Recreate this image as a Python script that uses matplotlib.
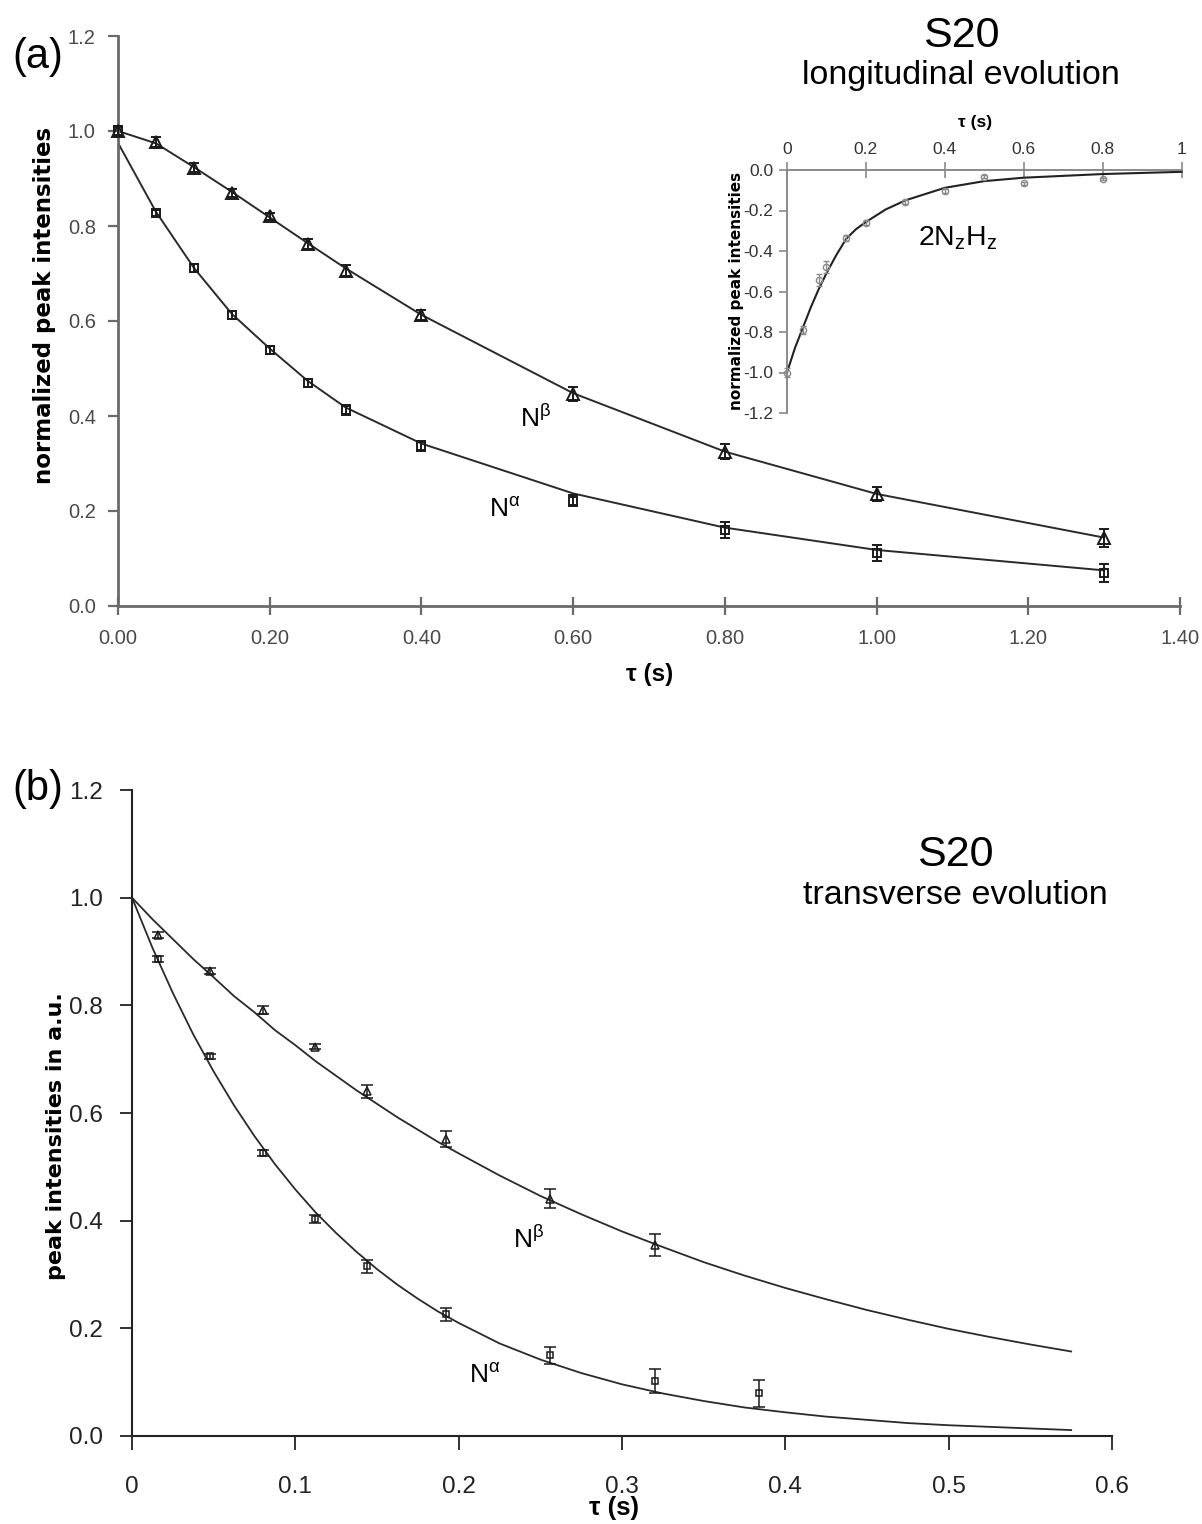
import matplotlib
matplotlib.use("Agg")
import matplotlib.pyplot as plt
from matplotlib.ticker import FormatStrFormatter, FixedLocator

plt.rcParams['font.family'] = ['Liberation Sans', 'DejaVu Sans']
plt.rcParams['mathtext.fontset'] = 'custom'
plt.rcParams['mathtext.rm'] = 'Liberation Sans'
plt.rcParams['mathtext.it'] = 'Liberation Sans:italic'
plt.rcParams['mathtext.bf'] = 'Liberation Sans:bold'

# ---------------- data: panel (a) longitudinal ----------------
a_tau = [0.00, 0.05, 0.10, 0.15, 0.20, 0.25, 0.30, 0.40, 0.60, 0.80, 1.00, 1.30]
a_nb = [1.000, 0.977, 0.923, 0.870, 0.820, 0.762, 0.706, 0.613, 0.446, 0.325, 0.236, 0.143]
a_nb_err = [0.010, 0.010, 0.009, 0.008, 0.008, 0.010, 0.012, 0.010, 0.014, 0.016, 0.015, 0.019]
a_na = [1.000, 0.828, 0.711, 0.613, 0.539, 0.469, 0.413, 0.337, 0.222, 0.160, 0.111, 0.069]
a_na_err = [0.010, 0.006, 0.008, 0.008, 0.008, 0.008, 0.010, 0.010, 0.012, 0.016, 0.017, 0.019]
a_nb_fit = [1.000, 0.974, 0.924, 0.872, 0.818, 0.764, 0.711, 0.613, 0.448, 0.325, 0.236, 0.144]
a_na_fit = [0.975, 0.830, 0.712, 0.615, 0.542, 0.474, 0.418, 0.342, 0.237, 0.165, 0.118, 0.075]
a_xticks = [0.0, 0.2, 0.4, 0.6, 0.8, 1.0, 1.2, 1.4]
a_yticks = [0.0, 0.2, 0.4, 0.6, 0.8, 1.0, 1.2]

# ---------------- data: inset 2NzHz ----------------
i_tau = [0.00, 0.04, 0.08, 0.10, 0.15, 0.20, 0.30, 0.40, 0.50, 0.60, 0.80]
i_val = [-1.000, -0.789, -0.542, -0.477, -0.334, -0.260, -0.156, -0.102, -0.033, -0.066, -0.044]
i_err = [0.020, 0.020, 0.030, 0.030, 0.015, 0.012, 0.010, 0.010, 0.006, 0.006, 0.006]
i_fit_tau = [0.00, 0.02, 0.04, 0.06, 0.08, 0.10, 0.125, 0.15, 0.175, 0.20, 0.25, 0.30,
             0.40, 0.50, 0.60, 0.80, 1.00]
i_fit = [-1.000, -0.880, -0.780, -0.680, -0.590, -0.510, -0.420, -0.340, -0.292, -0.257,
         -0.195, -0.150, -0.088, -0.055, -0.038, -0.020, -0.009]
i_xticks = [0.0, 0.2, 0.4, 0.6, 0.8, 1.0]
i_xticklabels = ['0', '0.2', '0.4', '0.6', '0.8', '1']
i_yticks = [-1.2, -1.0, -0.8, -0.6, -0.4, -0.2, 0.0]

# ---------------- data: panel (b) transverse ----------------
b_tau_nb = [0.016, 0.048, 0.080, 0.112, 0.144, 0.192, 0.256, 0.320]
b_nb = [0.931, 0.864, 0.791, 0.723, 0.640, 0.551, 0.441, 0.355]
b_nb_err = [0.005, 0.005, 0.008, 0.005, 0.012, 0.015, 0.018, 0.021]
b_tau_na = [0.016, 0.048, 0.080, 0.112, 0.144, 0.192, 0.256, 0.320, 0.384]
b_na = [0.886, 0.705, 0.526, 0.403, 0.315, 0.226, 0.150, 0.102, 0.079]
b_na_err = [0.005, 0.005, 0.005, 0.007, 0.012, 0.012, 0.016, 0.022, 0.025]
b_fit_tau = [0.0000, 0.0125, 0.0250, 0.0375, 0.0500, 0.0625, 0.0750, 0.0875, 0.1000,
             0.1125, 0.1250, 0.1375, 0.1500, 0.1625, 0.1750, 0.1875, 0.2000, 0.2250,
             0.2500, 0.2750, 0.3000, 0.3250, 0.3500, 0.3750, 0.4000, 0.4250, 0.4500,
             0.4750, 0.5000, 0.5250, 0.5500, 0.5750]
b_nb_fit = [1.000, 0.960, 0.923, 0.886, 0.852, 0.817, 0.787, 0.754, 0.726,
            0.696, 0.669, 0.642, 0.617, 0.592, 0.569, 0.546, 0.525, 0.484,
            0.446, 0.412, 0.380, 0.351, 0.323, 0.298, 0.275, 0.254, 0.234,
            0.216, 0.199, 0.184, 0.170, 0.157]
b_na_fit = [1.000, 0.907, 0.823, 0.746, 0.677, 0.614, 0.557, 0.505, 0.458,
            0.415, 0.377, 0.342, 0.310, 0.281, 0.255, 0.231, 0.210, 0.172,
            0.142, 0.117, 0.096, 0.079, 0.065, 0.053, 0.044, 0.036, 0.030,
            0.024, 0.020, 0.017, 0.014, 0.011]
b_xticks = [0.0, 0.1, 0.2, 0.3, 0.4, 0.5, 0.6]
b_xticklabels = ['0', '0.1', '0.2', '0.3', '0.4', '0.5', '0.6']
b_yticks = [0.0, 0.2, 0.4, 0.6, 0.8, 1.0, 1.2]

W, H = 1202, 1524
fig = plt.figure(figsize=(W / 100, H / 100), dpi=100)


def fx(x):
    return x / W


def fy(y):
    return 1 - y / H


# ================= panel (a) =================
axa = fig.add_axes([fx(118), fy(606), fx(1180) - fx(118), fy(36) - fy(606)])
axa.set_xlim(0, 1.4)
axa.set_ylim(0, 1.2)
gray_ax = '#6a6a6a'
for s in ['top', 'right']:
    axa.spines[s].set_visible(False)
for s in ['left', 'bottom']:
    axa.spines[s].set_color(gray_ax)
    axa.spines[s].set_linewidth(2.0)
axa.xaxis.set_major_locator(FixedLocator(a_xticks))
axa.yaxis.set_major_locator(FixedLocator(a_yticks))
axa.xaxis.set_major_formatter(FormatStrFormatter('%.2f'))
axa.yaxis.set_major_formatter(FormatStrFormatter('%.1f'))
axa.tick_params(axis='x', direction='inout', length=13, width=1.6, color=gray_ax,
                labelsize=14.5, labelcolor='#4a4a4a', pad=10)
axa.tick_params(axis='y', direction='out', length=7, width=1.6, color=gray_ax,
                labelsize=14.5, labelcolor='#4a4a4a', pad=9)

lc = '#2a2a2a'
axa.plot(a_tau, a_nb_fit, color=lc, lw=1.4, zorder=2)
axa.plot(a_tau, a_na_fit, color=lc, lw=1.4, zorder=2)
axa.errorbar(a_tau, a_nb, yerr=a_nb_err, fmt='^', ms=8, mfc='none', mec='#1a1a1a',
             mew=1.4, ecolor='#1a1a1a', elinewidth=1.4, capsize=3.8, capthick=1.4,
             zorder=3, clip_on=False)
axa.errorbar(a_tau, a_na, yerr=a_na_err, fmt='s', ms=6.3, mfc='none', mec='#1a1a1a',
             mew=1.4, ecolor='#1a1a1a', elinewidth=1.4, capsize=3.8, capthick=1.4,
             zorder=3, clip_on=False)

fig.text(fx(12), fy(57), '(a)', fontsize=30, ha='left', va='center')
fig.text(fx(961), fy(47), 'S20', fontsize=31, ha='center', va='baseline')
fig.text(fx(961), fy(84), 'longitudinal evolution', fontsize=24.5, ha='center', va='baseline')
fig.text(fx(520), fy(427), r'N$^{\mathrm{\beta}}$', fontsize=19, ha='left', va='baseline')
fig.text(fx(489), fy(517), r'N$^{\mathrm{\alpha}}$', fontsize=19, ha='left', va='baseline')
fig.text(fx(45), fy(305), 'normalized peak intensities', fontsize=16.5, fontweight='bold',
         family=['DejaVu Sans'], rotation=90, ha='center', va='center')
fig.text(fx(650), fy(674), 'τ (s)', fontsize=17.5, fontweight='bold', ha='center', va='center')

# ================= inset =================
axi = fig.add_axes([fx(787), fy(413), fx(1181.5) - fx(787), fy(170) - fy(413)])
axi.set_xlim(0, 1.0)
axi.set_ylim(-1.2, 0.0)
ig = '#8a8a8a'
for s in ['bottom', 'right']:
    axi.spines[s].set_visible(False)
for s in ['top', 'left']:
    axi.spines[s].set_color(ig)
    axi.spines[s].set_linewidth(1.4)
axi.xaxis.set_ticks_position('top')
axi.xaxis.set_label_position('top')
axi.xaxis.set_major_locator(FixedLocator(i_xticks))
axi.set_xticklabels(i_xticklabels)
axi.yaxis.set_major_locator(FixedLocator(i_yticks))
axi.yaxis.set_major_formatter(FormatStrFormatter('%.1f'))
axi.tick_params(axis='x', direction='inout', length=12, width=1.2, color=ig,
                labelsize=12.5, labelcolor='#333333', pad=3)
axi.tick_params(axis='y', direction='out', length=6, width=1.2, color=ig,
                labelsize=12.5, labelcolor='#333333', pad=4)
axi.patch.set_alpha(0)
axi.plot(i_fit_tau, i_fit, color='#222222', lw=1.5, zorder=2, clip_on=False)
axi.errorbar(i_tau, i_val, yerr=i_err, fmt='o', ms=4.5, mfc='none', mec='#8a8a8a',
             mew=1.0, ecolor='#8a8a8a', elinewidth=1.0, capsize=2, capthick=1.0,
             zorder=3, clip_on=False)
fig.text(fx(958), fy(238), r'2N$_{\mathrm{z}}$H$_{\mathrm{z}}$', fontsize=20.5, ha='center', va='center')
fig.text(fx(736), fy(291), 'normalized peak intensities', fontsize=11, fontweight='bold',
         family=['DejaVu Sans'], rotation=90, ha='center', va='center')
fig.text(fx(975), fy(122), 'τ (s)', fontsize=12.5, fontweight='bold', ha='center', va='center')

# ================= panel (b) =================
axb = fig.add_axes([fx(132), fy(1436), fx(1112) - fx(132), fy(790) - fy(1436)])
axb.set_xlim(0, 0.6)
axb.set_ylim(0, 1.2)
for s in ['top', 'right']:
    axb.spines[s].set_visible(False)
for s in ['left', 'bottom']:
    axb.spines[s].set_color('#222222')
    axb.spines[s].set_linewidth(1.5)
axb.xaxis.set_major_locator(FixedLocator(b_xticks))
axb.set_xticklabels(b_xticklabels)
axb.yaxis.set_major_locator(FixedLocator(b_yticks))
axb.yaxis.set_major_formatter(FormatStrFormatter('%.1f'))
axb.tick_params(axis='x', direction='out', length=10, width=1.3, color='#222222',
                labelsize=17.5, labelcolor='#222222', pad=19)
axb.tick_params(axis='y', direction='out', length=9, width=1.3, color='#222222',
                labelsize=17.5, labelcolor='#222222', pad=12)

axb.plot(b_fit_tau, b_nb_fit, color='#2a2a2a', lw=1.3, zorder=2)
axb.plot(b_fit_tau, b_na_fit, color='#2a2a2a', lw=1.3, zorder=2)
axb.errorbar(b_tau_nb, b_nb, yerr=b_nb_err, fmt='^', ms=6.0, mfc='none', mec='#1a1a1a',
             mew=1.1, ecolor='#1a1a1a', elinewidth=1.1, capsize=4.2, capthick=1.1, zorder=3)
axb.errorbar(b_tau_na, b_na, yerr=b_na_err, fmt='s', ms=5.0, mfc='none', mec='#1a1a1a',
             mew=1.1, ecolor='#1a1a1a', elinewidth=1.1, capsize=4.2, capthick=1.1, zorder=3)

fig.text(fx(12), fy(789), '(b)', fontsize=30, ha='left', va='center')
fig.text(fx(955), fy(866), 'S20', fontsize=31, ha='center', va='baseline')
fig.text(fx(955), fy(904), 'transverse evolution', fontsize=24.5, ha='center', va='baseline')
fig.text(fx(513), fy(1248), r'N$^{\mathrm{\beta}}$', fontsize=19, ha='left', va='baseline')
fig.text(fx(469), fy(1383), r'N$^{\mathrm{\alpha}}$', fontsize=19, ha='left', va='baseline')
fig.text(fx(56), fy(1136), 'peak intensities in a.u.', fontsize=16, fontweight='bold',
         family=['DejaVu Sans'], rotation=90, ha='center', va='center')
fig.text(fx(614), fy(1508), 'τ (s)', fontsize=18.5, fontweight='bold', ha='center', va='center')

fig.savefig('out.png', dpi=100)
